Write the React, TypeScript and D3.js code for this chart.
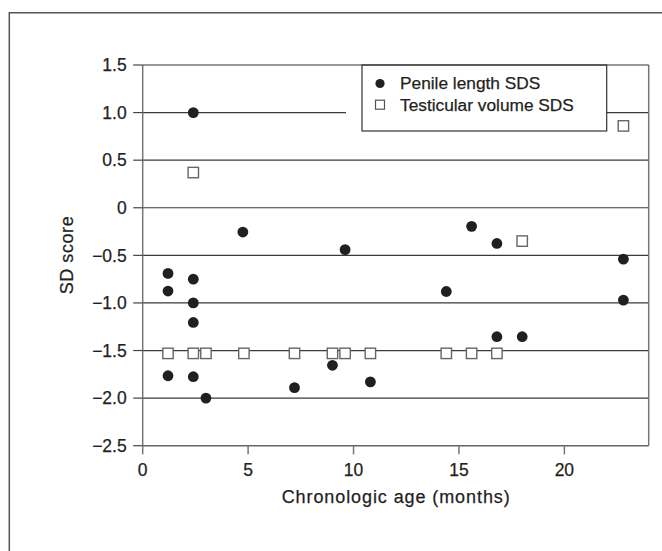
import React from "react";
import * as d3 from "d3";

const penileAge = [1.2, 1.2, 1.2, 2.4, 2.4, 2.4, 2.4, 2.4, 3.0, 4.75, 7.2, 9.0, 9.6, 10.8, 14.4, 15.6, 16.8, 16.8, 18.0, 22.8, 22.8];
const penileSDS = [-0.69, -0.875, -1.765, 1.0, -0.75, -1.0, -1.205, -1.775, -2.0, -0.255, -1.89, -1.655, -0.44, -1.83, -0.88, -0.195, -0.375, -1.355, -1.355, -0.54, -0.97];

const testisAge = [1.2, 2.4, 2.4, 3.0, 4.8, 7.2, 9.0, 9.6, 10.8, 14.4, 15.6, 16.8, 18.0, 22.8];
const testisSDS = [-1.53, 0.37, -1.53, -1.53, -1.53, -1.53, -1.53, -1.53, -1.53, -1.53, -1.53, -1.53, -0.35, 0.86];

const xTicks = [0, 5, 10, 15, 20];
const yTicks = [1.5, 1.0, 0.5, 0, -0.5, -1.0, -1.5, -2.0, -2.5];
const yTickLabels = ["1.5", "1.0", "0.5", "0", "\u22120.5", "\u22121.0", "\u22121.5", "\u22122.0", "\u22122.5"];

const legendLabels = ["Penile length SDS", "Testicular volume SDS"];
const xTitle = "Chronologic age (months)";
const yTitle = "SD score";

const FONT = "'Liberation Sans', Arial, Helvetica, sans-serif";
const INK = "#231f20";

export default function App() {
  const W = 662;
  const H = 551;
  const x = d3.scaleLinear().domain([0, 24]).range([142.7, 648.7]);
  const y = d3.scaleLinear().domain([-2.5, 1.5]).range([445.7, 65]);
  const x0 = x(0), x1 = x(24), yTop = y(1.5), yBot = y(-2.5);

  const legX0 = 362, legX1 = 606.7, legY1 = 131;
  const textProps = { fill: INK, stroke: INK, strokeWidth: 0.25 };

  return (
    <svg width={W} height={H} style={{ position: "absolute", left: 0, top: 0, background: "#fff" }} fontFamily={FONT}>
      <rect x={0} y={0} width={W} height={H} fill="#fff" />
      {/* outer frame */}
      <path d={`M9.3,${H} L9.3,12.7 L${W},12.7`} fill="none" stroke="#555" strokeWidth={1.5} />

      {/* gridlines */}
      {yTicks.filter(t => t > -2.5 && t < 1.5).map(t => (
        <line key={"g" + t} x1={x0} x2={x1} y1={y(t)} y2={y(t)} stroke="#3a3a3a" strokeWidth={1.2} />
      ))}

      {/* legend backdrop */}
      <rect x={346} y={yTop} width={legX1 - 346} height={legY1 - yTop} fill="#fff" />
      <rect x={legX0} y={yTop} width={legX1 - legX0} height={legY1 - yTop} fill="#fff" stroke="#333" strokeWidth={1.2} />

      {/* plot borders */}
      <line x1={x0} x2={x0} y1={yTop} y2={yBot} stroke="#777" strokeWidth={1.5} />
      <line x1={x1} x2={x1} y1={yTop} y2={yBot} stroke="#777" strokeWidth={1.5} />
      <line x1={x0} x2={x1} y1={yBot} y2={yBot} stroke="#666" strokeWidth={1.5} />
      <line x1={x0} x2={x1} y1={yTop} y2={yTop} stroke="#333" strokeWidth={1.2} />

      {/* y ticks */}
      {yTicks.map((t, i) => (
        <g key={"yt" + t}>
          <line x1={x0 - 9.5} x2={x0} y1={y(t)} y2={y(t)} stroke="#444" strokeWidth={1.2} />
          <text x={126.7} y={y(t)} dy="0.36em" textAnchor="end" fontSize={17.5} {...textProps}>{yTickLabels[i]}</text>
        </g>
      ))}

      {/* x ticks */}
      {xTicks.map(t => (
        <g key={"xt" + t}>
          <line x1={x(t)} x2={x(t)} y1={yBot} y2={yBot + 8.6} stroke="#777" strokeWidth={1.5} />
          <text x={x(t)} y={475.9} textAnchor="middle" fontSize={17.5} {...textProps}>{t}</text>
        </g>
      ))}

      {/* axis titles */}
      <text x={(x0 + x1) / 2} y={502.5} textAnchor="middle" fontSize={18} {...textProps} textLength={228} lengthAdjust="spacing">{xTitle}</text>
      <text transform={`translate(73,${(yTop + yBot) / 2}) rotate(-90)`} textAnchor="middle" fontSize={18} {...textProps} textLength={78} lengthAdjust="spacing">{yTitle}</text>

      {/* legend content */}
      <circle cx={380} cy={83.5} r={4.6} fill={INK} />
      <text x={400} y={89.3} fontSize={17.3} {...textProps}>{legendLabels[0]}</text>
      <rect x={375.5} y={100.2} width={9} height={9} fill="#fff" stroke="#555" strokeWidth={1.2} />
      <text x={400} y={110.7} fontSize={17.3} {...textProps}>{legendLabels[1]}</text>

      {/* data: testicular squares */}
      {testisAge.map((a, i) => (
        <rect key={"s" + i} x={x(a) - 5.2} y={y(testisSDS[i]) - 5.2} width={10.4} height={10.4} fill="#fff" stroke="#666" strokeWidth={1.4} />
      ))}
      {/* data: penile circles */}
      {penileAge.map((a, i) => (
        <circle key={"c" + i} cx={x(a)} cy={y(penileSDS[i])} r={5.4} fill={INK} />
      ))}
    </svg>
  );
}
